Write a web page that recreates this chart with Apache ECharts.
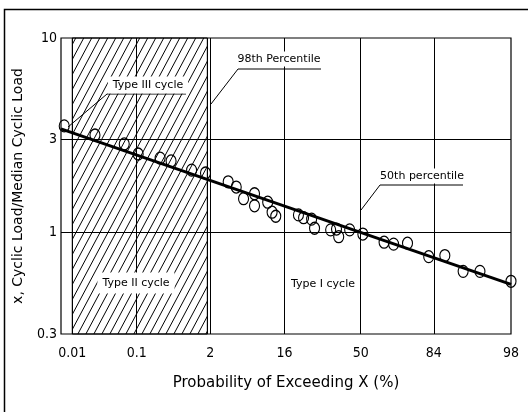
<!DOCTYPE html>
<html><head><meta charset="utf-8">
<script src="https://cdn.jsdelivr.net/npm/echarts@6/dist/echarts.min.js"></script>
<style>html,body{margin:0;padding:0;background:#fff}#c{width:528px;height:412px}</style>
</head><body><div id="c"></div>
<script>
// x axis is a normal-probability scale: values are the standard normal score of the exceedance probability
const xTickLabels = ['0.01', '0.1', '2', '16', '50', '84', '98'];
const xTickScore  = [-3.94, -3.06, -2.054, -1.04, 0, 1.0, 2.054];
const yTickValues = [0.3, 1, 3, 10];

const pointScore = [-4.05, -3.63, -3.23, -3.04, -2.74, -2.59, -2.31, -2.12, -1.81, -1.70,
                    -1.60, -1.45, -1.45, -1.27, -1.21, -1.16, -0.85, -0.78, -0.67, -0.63,
                    -0.41, -0.33, -0.30, -0.15, 0.03, 0.32, 0.45, 0.64, 0.93, 1.15,
                    1.40, 1.63, 2.054];
const pointRatio = [3.53, 3.17, 2.85, 2.53, 2.41, 2.33, 2.09, 2.02, 1.82, 1.71,
                    1.49, 1.58, 1.37, 1.43, 1.27, 1.21, 1.23, 1.19, 1.17, 1.05,
                    1.03, 1.04, 0.95, 1.03, 0.98, 0.89, 0.87, 0.88, 0.75, 0.76,
                    0.63, 0.63, 0.56];
const fitScore = [-4.094, 2.054];
const fitRatio = [3.41, 0.54];
const hatchFromScore = -3.94;
const hatchToScore = -2.095;
const xMin = -4.094, xMax = 2.054;

const lg = v => Math.log10(v);
const FONT = "'Liberation Sans Narrow','DejaVu Sans Condensed','Liberation Sans',sans-serif";

function hatchPattern() {
  const w = 8, h = 15;
  const cv = document.createElement('canvas');
  cv.width = w; cv.height = h;
  const ctx = cv.getContext('2d');
  ctx.strokeStyle = '#000';
  ctx.lineWidth = 1;
  for (const dx of [-w, 0, w]) {
    ctx.beginPath();
    ctx.moveTo(dx, h);
    ctx.lineTo(dx + w, 0);
    ctx.stroke();
  }
  return { image: cv, repeat: 'repeat' };
}

const chart = echarts.init(document.getElementById('c'), null, { renderer: 'canvas' });

const gridLines = xTickScore.slice(0, 6).map(x => ({ xAxis: x }))
  .concat([{ xAxis: hatchToScore }, { yAxis: lg(1) }, { yAxis: lg(3) }]);

chart.setOption({
  animation: false,
  backgroundColor: '#fff',
  grid: { left: 61, right: 17, top: 38, bottom: 78, show: true, borderColor: '#000', borderWidth: 1.2 },
  xAxis: {
    type: 'value', min: xMin, max: xMax,
    name: 'Probability of Exceeding X (%)', nameLocation: 'middle', nameGap: 42,
    nameTextStyle: { fontFamily: "'DejaVu Sans',sans-serif", fontSize: 15, color: '#000' },
    axisLine: { show: false }, axisTick: { show: false }, splitLine: { show: false },
    axisLabel: {
      customValues: xTickScore, margin: 12,
      fontFamily: FONT, fontSize: 14, color: '#000',
      formatter: v => { const i = xTickScore.findIndex(t => Math.abs(t - v) < 1e-6); return i >= 0 ? xTickLabels[i] : ''; }
    }
  },
  yAxis: {
    type: 'value', min: lg(0.3), max: 1,
    name: 'x, Cyclic Load/Median Cyclic Load', nameLocation: 'middle', nameGap: 36,
    nameTextStyle: { fontFamily: "'DejaVu Sans',sans-serif", fontSize: 14, color: '#000' },
    axisLine: { show: false }, axisTick: { show: false }, splitLine: { show: false },
    axisLabel: {
      customValues: yTickValues.map(lg), margin: 4,
      fontFamily: FONT, fontSize: 14, color: '#000',
      formatter: v => String(Number(Math.pow(10, v).toPrecision(2)))
    }
  },
  series: [
    {
      type: 'line', data: fitScore.map((x, i) => [x, lg(fitRatio[i])]),
      symbol: 'none', lineStyle: { color: '#000', width: 3 }, z: 3,
      markLine: {
        silent: true, symbol: 'none', label: { show: false },
        lineStyle: { color: '#000', width: 1, type: 'solid' },
        data: gridLines
      },
      markArea: {
        silent: true,
        itemStyle: { color: hatchPattern(), borderColor: '#000', borderWidth: 1 },
        data: [[{ xAxis: hatchFromScore }, { xAxis: hatchToScore }]]
      }
    },
    {
      type: 'scatter', data: pointScore.map((x, i) => [x, lg(pointRatio[i])]),
      symbol: 'circle', symbolSize: [10, 12], z: 4, clip: false,
      itemStyle: { color: 'rgba(0,0,0,0)', borderColor: '#000', borderWidth: 1.2, opacity: 1 }
    }
  ],
  graphic: [
    { type: 'rect', z: 1, shape: { x: 4.5, y: 9.5, width: 600, height: 600 }, style: { fill: null, stroke: '#000', lineWidth: 1.5 } },
    { type: 'polyline', z: 50, shape: { points: [[68, 127], [107, 94], [186, 94]] }, style: { fill: null, stroke: '#000', lineWidth: 1 } },
    { type: 'text', z: 51, style: { text: 'Type III cycle', x: 148, y: 85, textAlign: 'center', textVerticalAlign: 'middle', font: "11px 'DejaVu Sans', sans-serif", fill: '#000', backgroundColor: '#fff', padding: [3, 5, 3, 5] } },
    { type: 'polyline', z: 50, shape: { points: [[211, 104], [238, 69], [321, 69]] }, style: { fill: null, stroke: '#000', lineWidth: 1 } },
    { type: 'text', z: 51, style: { text: '98th Percentile', x: 279, y: 59, textAlign: 'center', textVerticalAlign: 'middle', font: "11px 'DejaVu Sans', sans-serif", fill: '#000', backgroundColor: '#fff', padding: [2, 2, 2, 2] } },
    { type: 'polyline', z: 50, shape: { points: [[361, 210], [380, 185], [463, 185]] }, style: { fill: null, stroke: '#000', lineWidth: 1 } },
    { type: 'text', z: 51, style: { text: '50th percentile', x: 422, y: 176, textAlign: 'center', textVerticalAlign: 'middle', font: "11px 'DejaVu Sans', sans-serif", fill: '#000', backgroundColor: '#fff', padding: [2, 2, 2, 2] } },
    { type: 'text', z: 51, style: { text: 'Type II cycle', x: 136, y: 283, textAlign: 'center', textVerticalAlign: 'middle', font: "11px 'DejaVu Sans', sans-serif", fill: '#000', backgroundColor: '#fff', padding: [5, 5, 5, 5] } },
    { type: 'text', z: 51, style: { text: 'Type I cycle', x: 323, y: 284, textAlign: 'center', textVerticalAlign: 'middle', font: "11px 'DejaVu Sans', sans-serif", fill: '#000' } }
  ]
});
</script>
</body></html>
